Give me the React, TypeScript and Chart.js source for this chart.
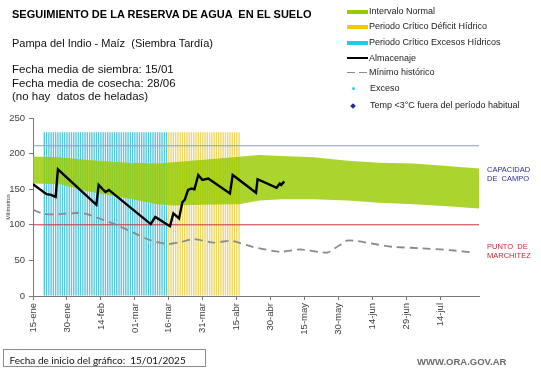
import React, { useEffect, useRef } from 'react';
import { Chart, registerables } from 'chart.js';

Chart.register(...registerables);

const FONT = '"Liberation Sans", Arial, Helvetica, sans-serif';

// X axis: days counted from 15/01/2025
const LAST_DAY = 197;
const TICK_STEP = 15;
const TICK_LABELS = ['15-ene', '30-ene', '14-feb', '01-mar', '16-mar', '31-mar', '15-abr', '30-abr', '15-may', '30-may', '14-jun', '29-jun', '14-jul'];
const Y_TICKS_MAX = 250;

// Almacenaje (soil water storage)
const ALM_DAYS = [0, 6, 8, 10, 11, 28, 29, 32, 33.5, 52, 54, 60.5, 62, 64.5, 66, 67, 68.5, 70, 71.3, 73, 74.8, 77.4, 87, 88.2, 98.5, 99.2, 107.6, 109, 109.6, 111];
const ALM_VALUES = [157, 143, 142, 139, 178, 128, 156, 146, 149, 101, 111, 98, 116, 109, 132, 135, 149, 151, 150, 170, 163, 165, 144, 170, 145, 164, 152, 158, 156, 161];

// Mínimo histórico
const MIN_DAYS = [0, 5, 12, 21, 24, 36, 45, 52, 59.6, 65.5, 71, 80, 87.6, 97, 109, 118, 130, 138.6, 143, 147, 159, 172, 184, 195];
const MIN_VALUES = [121, 115, 115, 117, 115, 101, 88, 78, 73, 76, 80, 75, 77.5, 69, 62, 65.5, 61, 77.7, 77.5, 75, 69, 67, 64.5, 61];

// Intervalo normal (band)
const BAND_DAYS = [0, 12, 24, 42, 55, 62, 74, 91, 100, 110, 124, 139, 153, 168, 183, 197];
const BAND_UPPER = [196, 195, 191, 187, 186, 188, 191, 195.5, 198, 196.5, 195, 190, 187, 186, 182.5, 179];
const BAND_LOWER = [158, 157, 147, 137, 129, 127, 128, 129, 134, 136, 136, 134, 131, 129, 126, 123];

// Reference levels
const CAPACIDAD_CAMPO = 211;
const PUNTO_MARCHITEZ = 100;

// Critical periods (first and last day) and the height of their stripes
const EXCESOS_PERIOD = [5, 59];
const DEFICIT_PERIOD = [60, 91];
const PERIOD_TOP = 230;

const LEGEND = [
  { label: 'Intervalo Normal', kind: 'bar', color: '#99cc00', y: 11.7 },
  { label: 'Periodo Crítico Déficit Hídrico', kind: 'bar', color: '#f5c800', y: 26.5 },
  { label: 'Periodo Crítico Excesos Hídricos', kind: 'bar', color: '#22c8ee', y: 42.7 },
  { label: 'Almacenaje', kind: 'line', color: '#000000', y: 58.3 },
  { label: 'Mínimo histórico', kind: 'dash', color: '#8c8c8c', y: 72.7 },
  { label: 'Exceso', kind: 'dot', color: '#33ccdd', y: 88.3 },
  { label: 'Temp <3°C fuera del período habitual', kind: 'diamond', color: '#1f2a9c', y: 106 },
];

function pts(xs: number[], ys: number[]) {
  return xs.map((x, i) => ({ x, y: ys[i] }));
}

function periodBars(period: number[]) {
  const out: { x: number; y: number }[] = [];
  for (let d = period[0]; d <= period[1]; d++) out.push({ x: d, y: PERIOD_TOP });
  return out;
}

export default function App() {
  const ref = useRef<HTMLCanvasElement>(null);

  useEffect(() => {
    const canvas = ref.current;
    if (!canvas) return;
    const chart = new Chart(canvas, {
      type: 'bar',
      data: {
        datasets: [
          {
            type: 'line',
            label: 'Almacenaje',
            data: pts(ALM_DAYS, ALM_VALUES),
            borderColor: '#000000',
            borderWidth: 2.4,
            pointRadius: 0,
            fill: false,
            tension: 0,
          },
          {
            type: 'line',
            label: 'Mínimo histórico',
            data: pts(MIN_DAYS, MIN_VALUES),
            borderColor: '#8a8a8a',
            borderWidth: 1.8,
            borderDash: [8, 5],
            pointRadius: 0,
            fill: false,
            tension: 0.15,
          },
          {
            type: 'line',
            label: 'Capacidad de campo',
            data: [{ x: 0, y: CAPACIDAD_CAMPO }, { x: LAST_DAY, y: CAPACIDAD_CAMPO }],
            borderColor: '#8c9cca',
            borderWidth: 1.2,
            pointRadius: 0,
            fill: false,
          },
          {
            type: 'line',
            label: 'Punto de marchitez',
            data: [{ x: 0, y: PUNTO_MARCHITEZ }, { x: LAST_DAY, y: PUNTO_MARCHITEZ }],
            borderColor: '#c8323c',
            borderWidth: 1,
            pointRadius: 0,
            fill: false,
          },
          {
            type: 'line',
            label: 'Intervalo Normal',
            data: pts(BAND_DAYS, BAND_UPPER),
            borderWidth: 0,
            borderColor: 'rgba(0,0,0,0)',
            backgroundColor: 'rgba(153,204,0,0.82)',
            pointRadius: 0,
            fill: '+1',
            tension: 0,
          },
          {
            type: 'line',
            label: 'Intervalo Normal (inf)',
            data: pts(BAND_DAYS, BAND_LOWER),
            borderWidth: 0,
            borderColor: 'rgba(0,0,0,0)',
            pointRadius: 0,
            fill: false,
            tension: 0,
          },
          {
            type: 'bar',
            label: 'Periodo Crítico Excesos Hídricos',
            data: periodBars(EXCESOS_PERIOD),
            backgroundColor: '#56c8de',
            borderWidth: 0,
            grouped: false,
            categoryPercentage: 0.6,
            barPercentage: 1,
          },
          {
            type: 'bar',
            label: 'Periodo Crítico Déficit Hídrico',
            data: periodBars(DEFICIT_PERIOD),
            backgroundColor: '#efd660',
            borderWidth: 0,
            grouped: false,
            categoryPercentage: 0.6,
            barPercentage: 1,
          },
        ],
      } as any,
      options: {
        animation: false,
        responsive: false,
        devicePixelRatio: 1,
        layout: { padding: { left: 0, top: 118, right: 62, bottom: 30 } },
        plugins: {
          legend: { display: false },
          tooltip: { enabled: false },
        },
        scales: {
          x: {
            type: 'linear',
            min: 0,
            max: LAST_DAY,
            offset: false,
            grid: { display: true, drawOnChartArea: false, drawTicks: true, tickLength: 4, color: '#7a7a7a', offset: false },
            border: { display: true, color: '#7a7a7a', width: 1 },
            ticks: {
              stepSize: TICK_STEP,
              includeBounds: false,
              autoSkip: false,
              maxRotation: 90,
              minRotation: 90,
              padding: 3,
              color: '#404040',
              font: { family: FONT, size: 9.5 },
              callback: (value: any) => {
                const i = Math.round(Number(value) / TICK_STEP);
                return TICK_LABELS[i] ?? undefined;
              },
            },
            afterFit: (scale: any) => {
              scale.height = 42;
            },
          },
          y: {
            type: 'linear',
            min: 0,
            max: Y_TICKS_MAX,
            grid: { display: true, drawOnChartArea: false, drawTicks: true, tickLength: 4, color: '#7a7a7a' },
            border: { display: true, color: '#7a7a7a', width: 1 },
            ticks: {
              stepSize: 50,
              padding: 4,
              color: '#404040',
              font: { family: FONT, size: 9.5 },
            },
            title: {
              display: true,
              text: 'Milímetros',
              color: '#404040',
              font: { family: FONT, size: 5.5 },
              padding: { top: 5, bottom: 0 },
            },
            afterFit: (scale: any) => {
              scale.width = 33;
            },
          },
        },
      } as any,
    });
    return () => chart.destroy();
  }, []);

  const abs = (left: number, top: number, size: number, extra: any = {}) => ({
    position: 'absolute' as const,
    left,
    top,
    fontSize: size,
    lineHeight: `${size}px`,
    whiteSpace: 'pre' as const,
    fontFamily: FONT,
    ...extra,
  });

  return (
    <div style={{ position: 'fixed', left: 0, top: 0, width: 541, height: 368, background: '#ffffff', overflow: 'hidden', fontFamily: FONT }}>
      <canvas ref={ref} width={541} height={368} style={{ position: 'absolute', left: 0, top: 0 }} />

      <div style={abs(12, 9, 11, { fontWeight: 'bold', color: '#000' })}>SEGUIMIENTO DE LA RESERVA DE AGUA  EN EL SUELO</div>
      <div style={abs(12, 38.4, 11, { color: '#111' })}>Pampa del Indio - Maíz  (Siembra Tardía)</div>
      <div style={abs(12, 64.3, 11.5, { color: '#111' })}>Fecha media de siembra: 15/01</div>
      <div style={abs(12, 77.6, 11.5, { color: '#111' })}>Fecha media de cosecha: 28/06</div>
      <div style={abs(12, 90.6, 11.5, { color: '#111' })}>(no hay  datos de heladas)</div>

      {LEGEND.map((it) => (
        <React.Fragment key={it.label}>
          {it.kind === 'bar' && (
            <div style={{ position: 'absolute', left: 347, top: it.y - 2, width: 21, height: 4, background: it.color }} />
          )}
          {it.kind === 'line' && (
            <div style={{ position: 'absolute', left: 347, top: it.y - 1, width: 21, height: 2, background: it.color }} />
          )}
          {it.kind === 'dash' && (
            <>
              <div style={{ position: 'absolute', left: 347, top: it.y - 1, width: 8, height: 1.6, background: it.color }} />
              <div style={{ position: 'absolute', left: 359, top: it.y - 1, width: 8, height: 1.6, background: it.color }} />
            </>
          )}
          {it.kind === 'dot' && (
            <div style={{ position: 'absolute', left: 351.5, top: it.y - 1.5, width: 3, height: 3, borderRadius: 2, background: it.color }} />
          )}
          {it.kind === 'diamond' && (
            <div style={{ position: 'absolute', left: 351, top: it.y - 2, width: 4, height: 4, background: it.color, transform: 'rotate(45deg)' }} />
          )}
          <div style={abs(it.kind === 'dot' || it.kind === 'diamond' ? 370 : 369, it.y - 4.6, 9, { color: '#222' })}>{it.label}</div>
        </React.Fragment>
      ))}

      <div style={abs(487, 166.3, 7.5, { color: '#2b2b9a' })}>CAPACIDAD</div>
      <div style={abs(487, 175.3, 7.5, { color: '#2b2b9a' })}>DE  CAMPO</div>
      <div style={abs(487, 243, 7.5, { color: '#c42838' })}>PUNTO  DE</div>
      <div style={abs(487, 251.6, 7.5, { color: '#c42838' })}>MARCHITEZ</div>

      <div style={{ position: 'absolute', left: 3, top: 349, width: 203, height: 18, boxSizing: 'border-box', border: '1px solid #9c8585', background: '#fff' }} />
      <div style={abs(9.5, 355.4, 10, { fontFamily: 'Lato, "Liberation Sans", sans-serif', color: '#111' })}>Fecha de inicio del gráfico:  15/01/2025</div>

      <div style={abs(417, 357, 9.5, { fontWeight: 'bold', color: '#6b6b6b' })}>WWW.ORA.GOV.AR</div>
    </div>
  );
}
